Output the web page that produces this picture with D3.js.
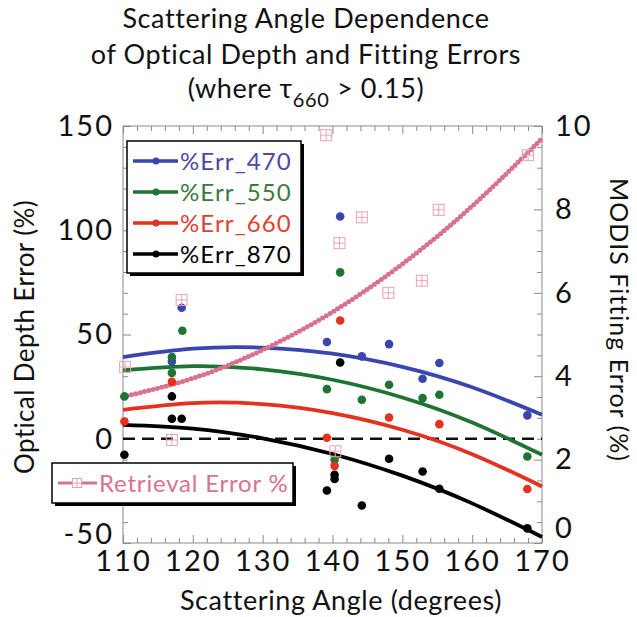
<!DOCTYPE html>
<html>
<head>
<meta charset="utf-8">
<script src="https://d3js.org/d3.v7.min.js"></script>
<style>
  body { margin: 0; background: #fff; }
  svg { display: block; font-family: Lato, "Open Sans", sans-serif; }
</style>
</head>
<body>
<svg width="637" height="617"></svg>
<script>
// [scattering angle (deg), optical depth error (%)] for each band
const err470 = [[117.0,37.1],[118.4,62.8],[139.2,46.4],[141.1,106.6],[144.2,39.5],[148.1,45.4],[152.9,28.8],[155.3,36.3],[167.9,11.2]];
const err550 = [[110.2,20.3],[117.0,39.2],[117.0,31.6],[118.5,51.8],[139.2,23.8],[140.3,-10],[141.1,79.8],[144.2,18.7],[148.1,25.9],[152.9,19.5],[155.3,21.1],[167.9,-8.5]];
const err660 = [[110.2,8.3],[117.0,27.3],[139.2,0.5],[140.3,-13],[141.1,56.7],[148.1,10.2],[155.3,7.0],[167.9,-24.1]];
const err870 = [[110.2,-7.7],[117.0,20.3],[117.0,9.6],[118.4,9.6],[139.2,-24.8],[140.3,-17.3],[140.3,-19.3],[141.1,36.6],[144.2,-32.0],[148.1,-9.6],[152.9,-15.7],[155.3,-24.0],[167.9,-43.0]];

// fitted curves
const fitAngles = [110,120,130,140,150,160,170];
const fit470 = [39.2,43.2,43.7,40.8,34.5,24.7,11.5];
const fit550 = [32.8,34.8,33.3,28.3,19.8,7.8,-7.7];
const fit660 = [13.9,17.1,16.6,12.3,4.3,-7.4,-22.9];
const fit870 = [6.7,4.9,0.2,-7.3,-17.7,-31.0,-47.1];

// MODIS fitting (retrieval) error (%), right axis
const retrieval = [[110.3,4.22],[117.0,2.47],[118.4,5.83],[139.1,9.78],[140.4,2.2],[141.0,7.19],[144.2,7.81],[148.0,6.0],[152.8,6.29],[155.2,7.99],[168.0,9.30]];
const fitRetrieval = [3.51,3.95,4.63,5.54,6.69,8.08,9.70];

const seriesNames = ["%Err_470","%Err_550","%Err_660","%Err_870"];
const seriesColors = ["#3a45b0","#1f7333","#e5321f","#000000"];
const textColors = ["#4a4aa6","#3b7a3f","#e0412f","#000000"];
const pink = "#d9728f";

const svg = d3.select("svg");
const plotL = 123, plotR = 542, plotT = 126, plotB = 543;

const x = d3.scaleLinear().domain([110,170]).range([plotL,plotR]);
const y = d3.scaleLinear().domain([-50,150]).range([plotB,plotT]);
const y2 = d3.scaleLinear().domain([0,10]).range([plotB,plotT]);

// titles
const title = svg.append("text").attr("text-anchor","middle").attr("font-size",27)
  .attr("letter-spacing",0.6).attr("fill","#111");
title.append("tspan").attr("x",306).attr("y",28).text("Scattering Angle Dependence");
title.append("tspan").attr("x",306).attr("y",64).text("of Optical Depth and Fitting Errors");
const t3 = svg.append("text").attr("x",306).attr("y",98).attr("text-anchor","middle").attr("font-size",27)
  .attr("letter-spacing",0.6).attr("fill","#111");
t3.append("tspan").text("(where \u03c4");
t3.append("tspan").attr("font-size",20).attr("dy",9).text("660");
t3.append("tspan").attr("dy",-9).text(" > 0.15)");

// frame and axes
svg.append("rect").attr("x",plotL).attr("y",plotT).attr("width",plotR-plotL).attr("height",plotB-plotT)
  .attr("fill","none").attr("stroke","#8a8a8a");

function styleAxis(g) {
  g.select(".domain").remove();
  g.selectAll(".tick line").attr("stroke","#8a8a8a");
  g.selectAll("text").attr("font-size",29).attr("letter-spacing",2).attr("fill","#111")
    .attr("font-family","Lato, sans-serif");
}

const gL = svg.append("g").attr("transform",`translate(${plotL},0)`)
  .call(d3.axisLeft(y).tickValues(d3.range(-50,151,10)).tickSizeInner(-5).tickSizeOuter(0).tickPadding(9)
    .tickFormat(d => d % 50 === 0 ? d : ""));
styleAxis(gL);
gL.selectAll(".tick").filter(d => d % 50 === 0).select("line").attr("x2",8);
gL.selectAll(".tick").filter(d => d === -50).select("text").attr("y",-9);

const gR = svg.append("g").attr("transform",`translate(${plotR},0)`)
  .call(d3.axisRight(y2).tickValues(d3.range(0,10.01,0.5)).tickSizeInner(-5).tickSizeOuter(0).tickPadding(13)
    .tickFormat(d => d % 2 === 0 ? d : ""));
styleAxis(gR);
gR.selectAll(".tick").filter(d => d % 2 === 0).select("line").attr("x2",-8);
gR.selectAll(".tick").filter(d => d === 0).select("text").attr("y",-15);

const gB = svg.append("g").attr("transform",`translate(0,${plotB})`)
  .call(d3.axisBottom(x).tickValues(d3.range(110,171,2)).tickSizeInner(-5).tickSizeOuter(0).tickPadding(7)
    .tickFormat(d => d % 10 === 0 ? d : ""));
styleAxis(gB);
gB.selectAll(".tick").filter(d => d % 10 === 0).select("line").attr("y2",-8);

const gT = svg.append("g").attr("transform",`translate(0,${plotT})`)
  .call(d3.axisTop(x).tickValues(d3.range(110,171,2)).tickSizeInner(-5).tickSizeOuter(0).tickFormat(""));
styleAxis(gT);
gT.selectAll(".tick").filter(d => d % 10 === 0).select("line").attr("y2",8);

svg.append("text").attr("x",341).attr("y",610).attr("text-anchor","middle").attr("font-size",27)
  .attr("letter-spacing",0.6).attr("fill","#111")
  .text("Scattering Angle (degrees)");
svg.append("text").attr("transform","translate(34,337) rotate(-90)").attr("text-anchor","middle").attr("font-size",26)
  .attr("letter-spacing",0.4).attr("fill","#111")
  .text("Optical Depth Error (%)");
svg.append("text").attr("transform","translate(610,320) rotate(90)").attr("text-anchor","middle").attr("font-size",25)
  .attr("letter-spacing",1).attr("fill","#111")
  .text("MODIS Fitting Error (%)");

// zero line
svg.append("line").attr("x1",plotL).attr("x2",plotR).attr("y1",y(0)).attr("y2",y(0))
  .attr("stroke","#111").attr("stroke-width",2.5).attr("stroke-dasharray","12,7");

// fits
const fitLine = d3.line().x((d,i) => x(fitAngles[i])).y(d => y(d)).curve(d3.curveNatural);
[fit470,fit550,fit660,fit870].forEach((f,i) => {
  svg.append("path").attr("d",fitLine(f)).attr("fill","none")
    .attr("stroke",seriesColors[i]).attr("stroke-width",3.8);
});

// retrieval fit, drawn as a dense line of dots
const fitLine2 = d3.line().x((d,i) => x(fitAngles[i])).y(d => y2(d)).curve(d3.curveNatural);
svg.append("path").attr("d",fitLine2(fitRetrieval)).attr("fill","none")
  .attr("stroke","#e2a3b5").attr("stroke-width",2);
svg.append("path").attr("d",fitLine2(fitRetrieval)).attr("fill","none")
  .attr("stroke",pink).attr("stroke-width",5).attr("stroke-linecap","round").attr("stroke-dasharray","0,4.4");

// data points
[err470,err550,err660,err870].forEach((s,i) => {
  svg.append("g").selectAll("circle").data(s).join("circle")
    .attr("cx",d => x(d[0])).attr("cy",d => y(d[1])).attr("r",4.3).attr("fill",seriesColors[i]);
});

function squareMark(g, cx, cy, s) {
  g.append("rect").attr("x",cx-s/2).attr("y",cy-s/2).attr("width",s).attr("height",s)
    .attr("fill","none").attr("stroke","#eba3b4").attr("stroke-width",1);
  g.append("line").attr("x1",cx-s/2).attr("x2",cx+s/2).attr("y1",cy).attr("y2",cy).attr("stroke","#eba3b4");
  g.append("line").attr("x1",cx).attr("x2",cx).attr("y1",cy-s/2).attr("y2",cy+s/2).attr("stroke","#eba3b4");
}
const sq = svg.append("g");
retrieval.forEach(d => squareMark(sq, x(d[0]), y2(d[1]), 11));

// legend for the four bands
const lg = svg.append("g");
lg.append("rect").attr("x",130).attr("y",144).attr("width",174).attr("height",132).attr("fill","#000");
lg.append("rect").attr("x",127).attr("y",141).attr("width",174).attr("height",132).attr("fill","#fff")
  .attr("stroke","#000").attr("stroke-width",1.5);
seriesNames.forEach((n,i) => {
  const yy = 161 + i * 31;
  lg.append("line").attr("x1",133).attr("x2",178).attr("y1",yy).attr("y2",yy)
    .attr("stroke",seriesColors[i]).attr("stroke-width",3.5);
  lg.append("circle").attr("cx",156).attr("cy",yy).attr("r",3.5).attr("fill",seriesColors[i]);
  lg.append("text").attr("x",180).attr("y",yy).attr("dy","0.36em").attr("font-size",24)
    .attr("letter-spacing",1.1).attr("fill",textColors[i]).text(n);
});

// legend for retrieval error
const lg2 = svg.append("g");
lg2.append("rect").attr("x",55).attr("y",466).attr("width",241).attr("height",40).attr("fill","#000");
lg2.append("rect").attr("x",52).attr("y",463).attr("width",241).attr("height",40).attr("fill","#fff")
  .attr("stroke","#000").attr("stroke-width",1.5);
lg2.append("line").attr("x1",58).attr("x2",97).attr("y1",483).attr("y2",483).attr("stroke",pink).attr("stroke-width",3);
lg2.append("rect").attr("x",72).attr("y",478).attr("width",10).attr("height",10).attr("fill","#fff");
squareMark(lg2, 77, 483, 9);
lg2.append("text").attr("x",99).attr("y",483).attr("dy","0.36em").attr("font-size",24)
  .attr("letter-spacing",0.8).attr("fill",pink).text("Retrieval Error %");
</script>
</body>
</html>
